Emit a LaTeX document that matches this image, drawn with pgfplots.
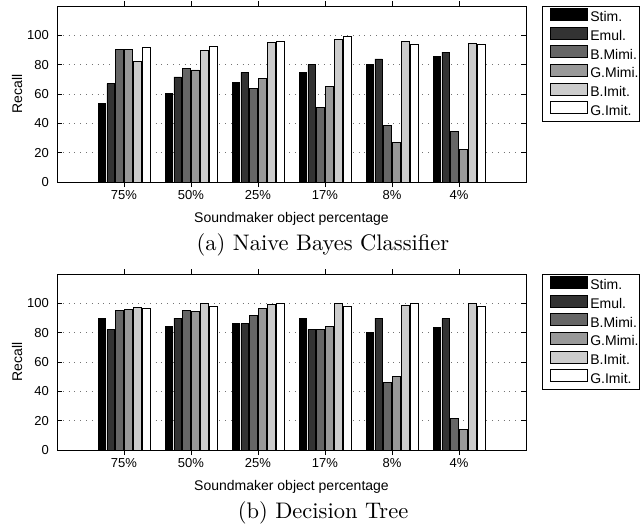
\documentclass[border=0pt]{standalone}
\usepackage{fontspec}
\newfontfamily\arial{Liberation Sans}
\newfontfamily\capfont{lmroman10-regular.otf}
\usepackage{pgfplots}
\usepackage{pgfplotstable}
\pgfplotsset{compat=1.18}

\definecolor{c1}{gray}{0}
\definecolor{c2}{gray}{0.2}
\definecolor{c3}{gray}{0.4}
\definecolor{c4}{gray}{0.6}
\definecolor{c5}{gray}{0.8}
\definecolor{c6}{gray}{1}

\pgfplotstableread{
x stim emul bmimi gmimi bimit gimit
1 53.4 67.0 90.2 90.2 82.5 91.4
2 60.4 71.6 77.4 76.4 90.0 92.4
3 68.1 74.8 63.9 70.5 95.2 95.8
4 74.5 80.0 51.1 65.1 97.0 99.2
5 79.9 83.9 38.8 26.8 95.5 94.0
6 85.4 88.5 34.6 22.5 94.3 94.0
}\nb

\pgfplotstableread{
x stim emul bmimi gmimi bimit gimit
1 90.0 82.0 95.0 96.0 97.4 96.7
2 84.3 90.0 95.1 94.4 100 97.6
3 86.1 86.1 92.0 96.4 99.5 100
4 90.0 82.0 82.2 84.0 100 98.0
5 80.1 90.0 46.2 50.0 98.8 100
6 83.8 89.6 21.8 13.7 100 98.0
}\dt

\pgfplotsset{
  mystyle/.style={
    width=469pt, height=176pt, scale only axis,
    xmin=0, xmax=7, ymin=0, ymax=120,
    xtick={1,...,6}, xticklabels={75\%,50\%,25\%,17\%,8\%,4\%},
    ytick={0,20,...,100},
    tick align=inside, major tick length=5pt,
    xtick pos=both, ytick pos=both,
    ymajorgrids,
    grid style={black!55, line width=0.7pt, dash pattern=on 0.8pt off 5pt},
    axis line style={line width=1pt},
    every tick/.style={black, line width=0.8pt},
    ybar=1.63pt, bar width=7.3pt,
    ticklabel style={font=\arial\fontsize{13}{13}\selectfont},
    /pgf/number format/assume math mode=true,
    xticklabel style={anchor=center, yshift=-8pt, text height=9.3pt, text depth=0pt, inner sep=0pt},
    yticklabel style={anchor=east, xshift=-8pt, inner sep=0pt},
    xlabel={Soundmaker object percentage}, ylabel={Recall},
    label style={font=\arial\fontsize{14}{14}\selectfont},
    xlabel style={at={(axis description cs:0.5,-0.21)}, anchor=center},
    ylabel style={at={(axis description cs:-0.0853,0.5)}, anchor=center},
    legend cell align=left,
    legend style={at={(axis description cs:1,1)}, anchor=north west, xshift=16pt,
      draw=black, line width=0.8pt, inner xsep=1pt, inner ysep=1.5pt, row sep=0pt,
      font=\arial\fontsize{14}{14}\selectfont,
      nodes={inner sep=0pt, text height=10pt, text depth=2pt, minimum height=17.5pt}},
    legend image code/.code={\path (0pt,0pt); \path (46pt,0pt);
      \draw[##1, line width=0.9pt] (7pt,-2.5pt) rectangle (44pt,9.5pt);},
  },
  bs/.style={draw=black, line width=0.9pt, fill=#1},
}

\begin{document}
\begin{tikzpicture}
\path[use as bounding box] (0pt,0pt) rectangle (644pt,-525pt);
\begin{axis}[mystyle, at={(57pt,-182pt)}]
\addplot[bs=c1] table[x=x,y=stim]{\nb};
\addplot[bs=c2] table[x=x,y=emul]{\nb};
\addplot[bs=c3] table[x=x,y=bmimi]{\nb};
\addplot[bs=c4] table[x=x,y=gmimi]{\nb};
\addplot[bs=c5] table[x=x,y=bimit]{\nb};
\addplot[bs=c6] table[x=x,y=gimit]{\nb};
\legend{Stim.,Emul.,B.Mimi.,G.Mimi.,B.Imit.,G.Imit.}
\end{axis}
\begin{axis}[mystyle, at={(57pt,-450pt)}]
\addplot[bs=c1] table[x=x,y=stim]{\dt};
\addplot[bs=c2] table[x=x,y=emul]{\dt};
\addplot[bs=c3] table[x=x,y=bmimi]{\dt};
\addplot[bs=c4] table[x=x,y=gmimi]{\dt};
\addplot[bs=c5] table[x=x,y=bimit]{\dt};
\addplot[bs=c6] table[x=x,y=gimit]{\dt};
\legend{Stim.,Emul.,B.Mimi.,G.Mimi.,B.Imit.,G.Imit.}
\end{axis}
\node[font=\capfont\fontsize{22.5}{27}\selectfont] at (323pt,-245pt) {(a) Naive Bayes Classifier};
\node[font=\capfont\fontsize{22.5}{27}\selectfont] at (323pt,-513pt) {(b) Decision Tree};
\end{tikzpicture}
\end{document}
